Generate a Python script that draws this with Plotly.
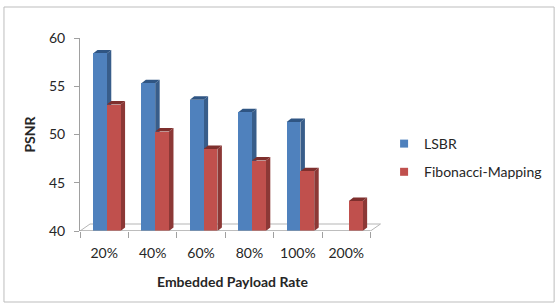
import plotly.graph_objects as go

# ---- data ----
categories = ["20%", "40%", "60%", "80%", "100%", "200%"]
lsbr = [58.4, 55.3, 53.6, 52.3, 51.3, None]
fibonacci = [53.1, 50.3, 48.5, 47.3, 46.2, 43.1]
y_ticks = [40, 45, 50, 55, 60]

# ---- styling / geometry ----
W, H = 560, 305
ML, MT, MB = 80, 38, 74
X0, X1 = -0.5, 5.8
Y0, Y1 = 40, 60
PITCH_PX = 48.4
PLOT_W = (X1 - X0) * PITCH_PX
MR = W - ML - PLOT_W
PLOT_H = H - MT - MB
PX_X = 1.0 / PITCH_PX
PX_Y = (Y1 - Y0) / PLOT_H

BAR_W = 0.285
OFF = {"LSBR": -0.232, "Fib": 0.053}
DEPTH_DX, DEPTH_DY = 4.5 * PX_X, 3.5 * PX_Y
FLOOR_DX, FLOOR_DY = 10 * PX_X, 7 * PX_Y

BLUE, BLUE_SIDE, BLUE_TOP = "#4F81BD", "#385D8A", "#2F5583"
RED, RED_SIDE, RED_TOP = "#C0504D", "#8C3836", "#7E2F2D"
FONT = "Lato, 'Open Sans', sans-serif"
TXT = "#262626"
FS = 14

xs = list(range(len(categories)))

fig = go.Figure()
fig.add_trace(go.Bar(x=xs, y=[None if v is None else v - Y0 for v in lsbr], base=Y0,
                     offset=OFF["LSBR"], width=BAR_W, name="LSBR", showlegend=False,
                     marker=dict(color=BLUE, line=dict(width=0))))
fig.add_trace(go.Bar(x=xs, y=[v - Y0 for v in fibonacci], base=Y0,
                     offset=OFF["Fib"], width=BAR_W, name="Fibonacci-Mapping", showlegend=False,
                     marker=dict(color=RED, line=dict(width=0))))
# legend entries (small square keys)
fig.add_trace(go.Scatter(x=[None], y=[None], mode="markers", name="LSBR",
                         marker=dict(symbol="square", size=8, color=BLUE), legendgroup="a"))
fig.add_trace(go.Scatter(x=[None], y=[None], mode="markers", name="Fibonacci-Mapping",
                         marker=dict(symbol="square", size=8, color=RED), legendgroup="b"))

shapes = []
# floor
fx0, fx1 = X0, X0 + 6
shapes.append(dict(type="path", xref="x", yref="y", layer="below",
                   path=f"M{fx0},{Y0} L{fx1},{Y0} L{fx1+FLOOR_DX},{Y0+FLOOR_DY} L{fx0+FLOOR_DX},{Y0+FLOOR_DY} Z",
                   line=dict(color="#B5B5B5", width=1), fillcolor="white"))

def faces(vals, off, side_c, top_c):
    out = []
    for i, v in enumerate(vals):
        if v is None:
            continue
        a = i + off
        b = a + BAR_W
        out.append(dict(type="path", xref="x", yref="y", layer="below",
                        path=f"M{b},{Y0} L{b},{v} L{b+DEPTH_DX},{v+DEPTH_DY} L{b+DEPTH_DX},{Y0+DEPTH_DY} Z",
                        line=dict(width=0), fillcolor=side_c))
        out.append(dict(type="path", xref="x", yref="y", layer="below",
                        path=f"M{a},{v} L{b},{v} L{b+DEPTH_DX},{v+DEPTH_DY} L{a+DEPTH_DX},{v+DEPTH_DY} Z",
                        line=dict(width=0), fillcolor=top_c))
    return out

shapes += faces(lsbr, OFF["LSBR"], BLUE_SIDE, BLUE_TOP)
shapes += faces(fibonacci, OFF["Fib"], RED_SIDE, RED_TOP)

# x axis front edge (floor front)
shapes.append(dict(type="line", xref="x", yref="y", x0=X0, x1=X0 + 6, y0=Y0, y1=Y0,
                   line=dict(color="#A0A0A0", width=1)))

# chart border
def px2paper_x(px):
    return (px - ML) / PLOT_W
def px2paper_y(py):
    return (H - MB - py) / PLOT_H
shapes.append(dict(type="rect", xref="paper", yref="paper",
                   x0=px2paper_x(4), x1=px2paper_x(554), y0=px2paper_y(302), y1=px2paper_y(7),
                   line=dict(color="#BDBDBD", width=1)))

fig.update_layout(
    width=W, height=H,
    margin=dict(l=ML, r=MR, t=MT, b=MB, pad=0),
    paper_bgcolor="white", plot_bgcolor="white",
    font=dict(family=FONT, size=FS, color=TXT),
    shapes=shapes,
    showlegend=True,
    legend=dict(x=px2paper_x(384), y=px2paper_y(128), xanchor="left", yanchor="top",
                font=dict(size=FS, color=TXT), itemwidth=30, tracegroupgap=7,
                traceorder="grouped", bgcolor="rgba(0,0,0,0)"),
    bargap=0,
)
fig.update_xaxes(range=[X0, X1], tickmode="array", tickvals=xs, ticktext=categories,
                 showline=False, showgrid=False, zeroline=False, ticks="",
                 ticklabelstandoff=12,
                 minor=dict(tickmode="linear", tick0=-0.5, dtick=1, ticks="outside",
                            ticklen=6, tickcolor="#A0A0A0", showgrid=False),
                 title=dict(text="<b>Embedded Payload Rate</b>", font=dict(size=FS), standoff=17))
fig.update_yaxes(range=[Y0, Y1], tickmode="array", tickvals=y_ticks,
                 showline=True, linecolor="#A0A0A0", linewidth=1,
                 ticks="outside", ticklen=5, tickcolor="#A0A0A0",
                 showgrid=False, zeroline=False, ticklabelstandoff=6,
                 title=dict(text="<b>PSNR</b>", font=dict(size=FS), standoff=10))

fig.write_html("out.html")
